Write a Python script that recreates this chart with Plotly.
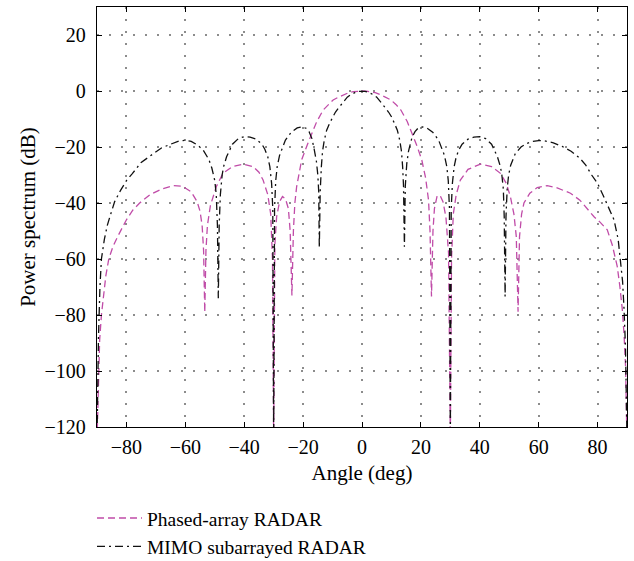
import plotly.graph_objects as go

# Phased-array RADAR (angle deg, power dB)
pa_angle = [-90, -89.5, -89.1, -88.5, -88, -87, -86, -84.6, -83, -81.2, -80, -77.8, -75.6, -72, -68, -64, -61, -58, -56, -55, -54.3, -53.8, -53.4,
            -53, -52.5, -51.5, -50, -49.5, -47.2, -44, -40.4, -37, -35, -33.6, -32, -31, -30.4, -30,
            -29.6, -29, -28, -27, -26, -25, -24.4, -23.8, -23.3, -22.8, -22.2, -21, -20.5, -18.5, -17.7, -15.4, -13.2, -11.5, -9.8, -8, -6.4, -4.5, -3, -1.5, 0,
            1.5, 3, 4.5, 6.4, 8, 9.8, 11.5, 13.2, 15.4, 17.5, 18.8, 20.3, 21.6, 22.6, 23.1, 23.6,
            24.1, 24.6, 25.5, 26.5, 27.5, 28.5, 29.4, 30,
            30.4, 31, 32, 33.4, 36, 40.2, 44, 47, 49, 50.4, 51.6, 52.4, 53,
            53.5, 54.2, 55, 57, 59.5, 62.9, 66, 70.8, 74, 78.8, 81, 83.3, 85, 86.7, 87.6, 88.4, 89, 89.5, 90]
pa_power = [-125, -100, -89, -80, -74.6, -66, -60, -55.6, -52, -48.5, -46, -42.5, -40.1, -37, -35, -33.8, -34, -36, -39.5, -43, -48, -57, -79,
            -57, -48, -41, -36, -34.2, -29.4, -27, -26.1, -27, -29, -31.8, -37, -44, -60, -125,
            -55, -45, -39.5, -37.7, -38.5, -42, -50, -73, -50, -40, -34.2, -28, -24.6, -19, -16.9, -11, -6.8, -4.8, -3.2, -2.2, -1.4, -0.6, -0.25, -0.05, 0,
            -0.05, -0.25, -0.6, -1.4, -2.2, -3.2, -4.8, -6.8, -11, -16.5, -20, -24.6, -31, -39, -50, -73.4,
            -50, -42, -37.5, -37.3, -39.5, -45, -58, -125,
            -60, -44, -37, -31.8, -28, -26.1, -27, -29.4, -33, -37.7, -44, -52, -78.8,
            -52, -44, -40, -36.5, -34.5, -33.8, -34.5, -36.5, -39, -44.9, -47, -49.6, -55, -62.7, -70, -78, -87, -98, -125]

# MIMO subarrayed RADAR (angle deg, power dB)
mimo_angle = [-90, -89.5, -89, -88.5, -87.5, -86.5, -85.5, -84, -82, -80, -78, -75, -71, -68, -65, -62, -60, -58, -56, -54, -52, -51, -50, -49.5, -49.1, -48.8,
              -48.5, -48.1, -47.5, -47, -46, -45, -44, -42, -40, -38, -36, -34, -33, -32, -31.3, -30.7, -30.3, -30,
              -29.7, -29.3, -28.8, -28, -27, -26, -24, -22, -20.5, -19, -18, -17, -16.2, -15.5, -15, -14.7, -14.5,
              -14.2, -13.8, -13.4, -12.8, -12, -11, -10, -9, -8, -7, -6, -5, -4, -3, -2, -1, 0,
              1, 2, 3, 4, 5, 6, 7, 8, 9, 10, 11, 12, 12.8, 13.4, 13.8, 14.1, 14.4,
              14.7, 15.2, 15.8, 17, 18, 19, 20.5, 22, 24, 26, 27, 28, 28.8, 29.3, 29.7, 30,
              30.3, 30.7, 31.3, 32, 33, 34, 36, 38, 40, 42, 44, 45, 46, 47, 47.5, 48, 48.3, 48.6,
              48.9, 49.3, 49.8, 50.5, 52, 54, 56, 58, 60, 62, 65, 68, 71, 74, 76, 78, 80, 82, 84, 85.6, 87, 87.8, 88.5, 89, 89.5, 90]
mimo_power = [-125, -88, -70, -60, -53, -48, -44.5, -39.5, -35.5, -32, -29.5, -25.5, -22.5, -20.3, -19, -17.8, -17.6, -18, -19.2, -21, -24.5, -27.5, -32, -37, -48, -74,
              -48, -37, -30, -27, -23.5, -21, -19, -17, -16.3, -16.5, -17.2, -19, -20.8, -23.5, -27, -33, -42, -125,
              -42, -32, -27, -23, -20, -17.5, -14.7, -13.2, -12.8, -13.3, -14.5, -17, -21, -25, -30, -36, -56,
              -36, -27, -21.5, -17.5, -14, -11.5, -9.2, -7.5, -6.1, -4.8, -3.4, -2.2, -1.4, -0.8, -0.35, -0.1, 0,
              -0.1, -0.35, -0.8, -1.4, -2.2, -3.4, -4.8, -6.1, -7.5, -9.2, -11.5, -14, -17.5, -21.5, -27, -34, -55.6,
              -34, -26, -21.5, -16.5, -14.5, -13.3, -12.8, -13.2, -14.7, -17.5, -20, -23, -27, -32, -42, -125,
              -42, -33, -27, -23.5, -20.8, -19, -17.2, -16.5, -16.3, -17, -19, -21, -23.5, -27, -30, -35, -45, -73.4,
              -45, -35, -30, -26.5, -22.5, -20, -18.7, -18, -17.7, -17.8, -18.5, -19.8, -21.5, -24, -26.5, -30, -33, -37.5, -42.5, -46, -53, -60, -68, -78, -92, -125]

x_ticks = [-80, -60, -40, -20, 0, 20, 40, 60, 80]
y_ticks = [-120, -100, -80, -60, -40, -20, 0, 20]

FONT = "Liberation Serif"

fig = go.Figure()
fig.add_trace(go.Scatter(
    x=pa_angle, y=pa_power, mode="lines", name="Phased-array RADAR",
    line=dict(color="#c04ca8", width=1.3, dash="7px,4px"),
))
fig.add_trace(go.Scatter(
    x=mimo_angle, y=mimo_power, mode="lines", name="MIMO subarrayed RADAR",
    line=dict(color="#111111", width=1.3, dash="8px,4px,2px,4px"),
))

axis_common = dict(
    showline=True, linecolor="black", linewidth=1.3, mirror="ticks",
    ticks="inside", ticklen=5, tickcolor="black", tickwidth=1.2,
    showgrid=True, gridcolor="#8c8c8c", griddash="1.5px,10.5px", gridwidth=1.5,
    zeroline=False,
    tickfont=dict(family=FONT, size=20, color="black"),
)

fig.update_layout(
    width=634, height=561,
    margin=dict(l=97, r=7, t=7, b=134, autoexpand=False),
    plot_bgcolor="white", paper_bgcolor="white",
    font=dict(family=FONT, size=21, color="black"),
    xaxis=dict(range=[-90, 90], tickvals=x_ticks, ticklabelstandoff=2,
               title=dict(text="Angle (deg)", font=dict(family=FONT, size=21), standoff=8),
               **axis_common),
    yaxis=dict(range=[-120, 30], tickvals=y_ticks, ticklabelstandoff=6,
               title=dict(text="Power spectrum (dB)", font=dict(family=FONT, size=21), standoff=3),
               **axis_common),
    legend=dict(x=-0.0094, y=-0.171, xanchor="left", yanchor="top",
                itemwidth=45, tracegroupgap=0,
                font=dict(family=FONT, size=19.5), bgcolor="rgba(0,0,0,0)"),
    showlegend=True,
)

fig.write_html("out.html", config={"displayModeBar": False},
               post_script="document.body.style.margin='0';document.body.style.padding='0';")
